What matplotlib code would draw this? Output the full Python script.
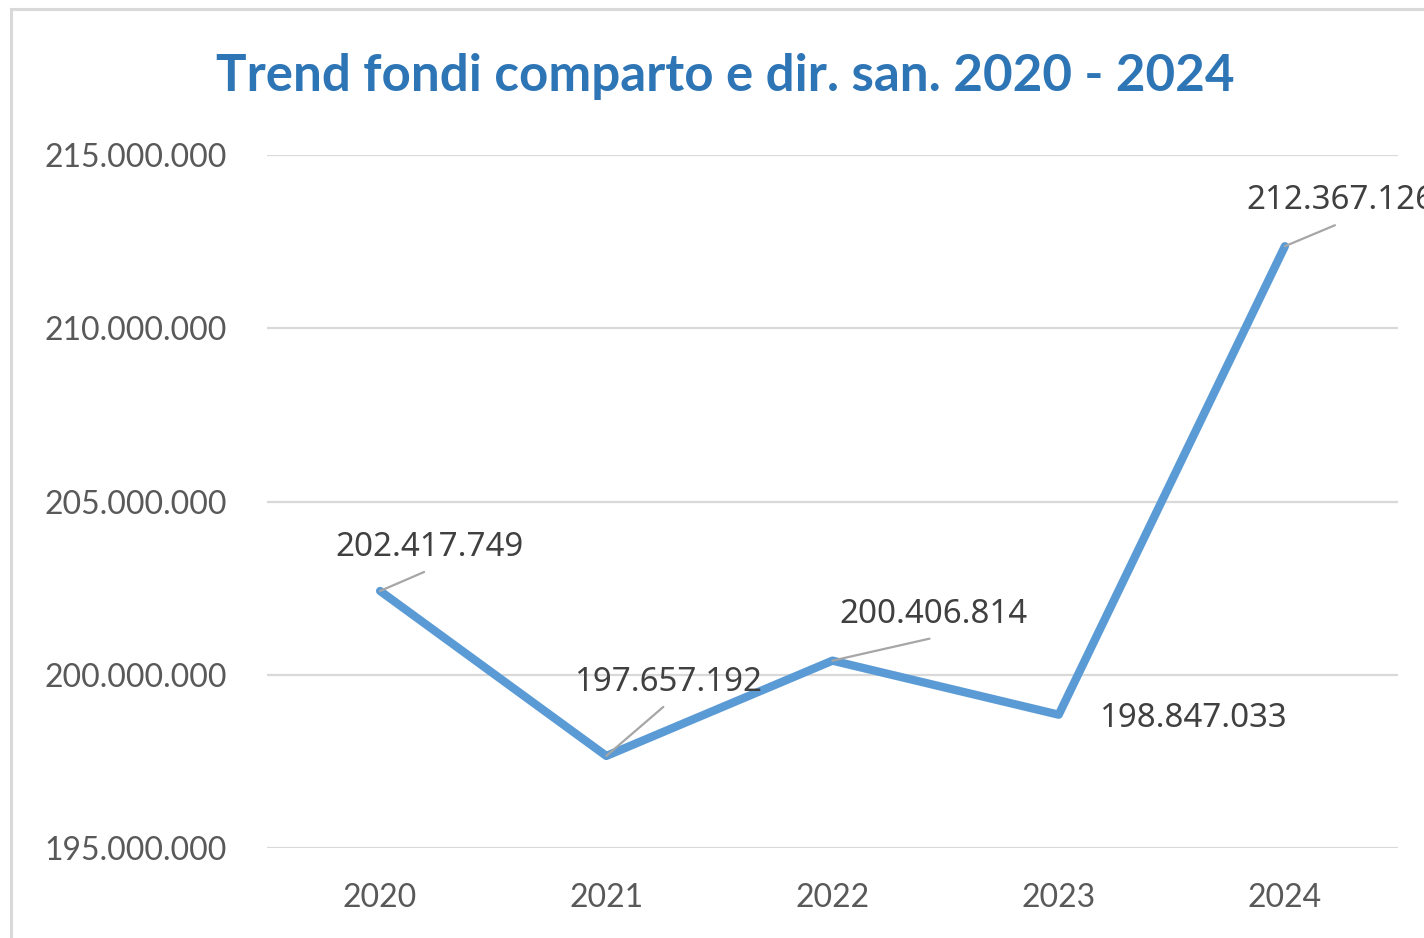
import matplotlib
matplotlib.use("Agg")
import matplotlib.pyplot as plt
from matplotlib.patches import Rectangle

years = ["2020", "2021", "2022", "2023", "2024"]
values = [202417749, 197657192, 200406814, 198847033, 212367126]
yticks = [195000000, 200000000, 205000000, 210000000, 215000000]
title = "Trend fondi comparto e dir. san. 2020 - 2024"

def fmt(v):
    return f"{v:,}".replace(",", ".")

# label offsets (pixels) relative to the point, and leader-line end offsets
label_off = [(49, 43), (62, 73), (101, 46), (134, -4), (55, 46)]
leader_off = [(44, 19), (57, 49), (97, 22), None, (50, 21)]

W, H = 1424, 938
fig = plt.figure(figsize=(W / 100, H / 100), dpi=100)
fig.patch.set_facecolor("white")

# chart border (partly outside the image)
fig.add_artist(Rectangle((11 / W, -0.2), 1.5, 1.2 - 9 / H, transform=fig.transFigure,
                         fill=False, edgecolor="#d9d9d9", linewidth=2.2))

ax = fig.add_axes([267 / W, 1 - 848 / H, (1398 - 267) / W, (848 - 155) / H])
x = list(range(len(years)))
ax.plot(x, values, color="#5B9BD5", linewidth=6, solid_capstyle="round",
        solid_joinstyle="round", zorder=3)
ax.set_xlim(-0.5, len(years) - 0.5)
ax.set_ylim(yticks[0], yticks[-1])
ax.set_yticks(yticks)
ax.set_yticklabels([fmt(v) for v in yticks])
ax.set_xticks(x)
ax.set_xticklabels(years)
for s in ax.spines.values():
    s.set_visible(False)
ax.grid(axis="y", color="#d9d9d9", linewidth=1.6, zorder=0)
ax.tick_params(axis="both", length=0, colors="#595959", labelsize=23)
ax.tick_params(axis="y", pad=29)
ax.tick_params(axis="x", pad=25)
for lab in ax.get_xticklabels() + ax.get_yticklabels():
    lab.set_fontfamily("Lato")
    lab.set_color("#595959")

for xi, v, lo, le in zip(x, values, label_off, leader_off):
    if le is not None:
        ax.annotate("", xy=(xi, v), xytext=le, textcoords="offset pixels",
                    arrowprops=dict(arrowstyle="-", color="#a6a6a6", lw=1.6,
                                    shrinkA=0, shrinkB=0), zorder=4,
                    annotation_clip=False)
    ax.annotate(fmt(v), xy=(xi, v), xytext=lo, textcoords="offset pixels",
                ha="center", va="center", fontsize=23.8, family="Noto Sans",
                color="#404040", zorder=5, annotation_clip=False)

fig.text(725 / W, 1 - 76 / H, title, ha="center", va="center", fontsize=36.8,
         fontweight="bold", family="Lato", color="#2E75B6")

fig.savefig("out.png", dpi=100, facecolor="white")
